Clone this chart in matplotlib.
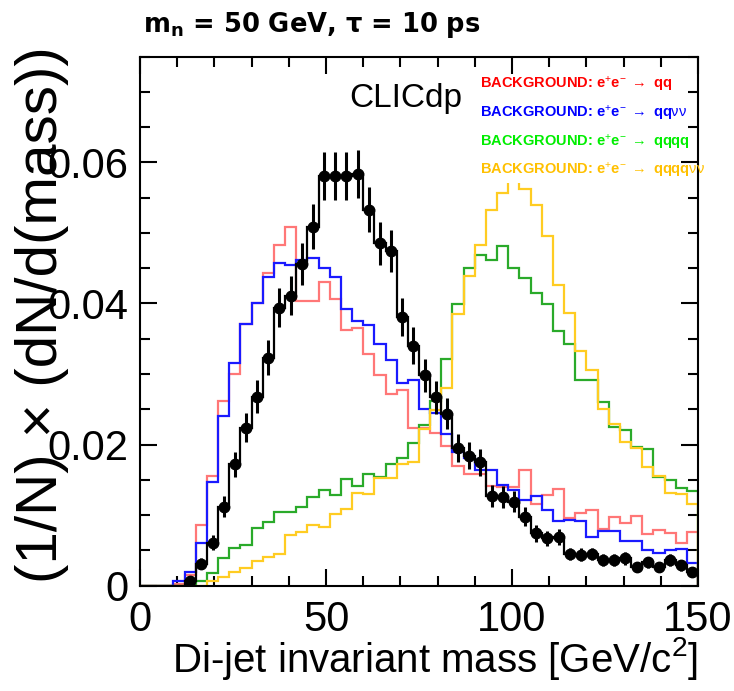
import numpy as np
import matplotlib.pyplot as plt
from matplotlib.patches import Rectangle
from matplotlib.ticker import MultipleLocator, FuncFormatter

plt.rcParams['font.family'] = ['Liberation Sans', 'DejaVu Sans']
plt.rcParams['mathtext.fontset'] = 'custom'
plt.rcParams['mathtext.rm'] = 'Liberation Sans'
plt.rcParams['mathtext.it'] = 'Liberation Sans:italic'
plt.rcParams['mathtext.bf'] = 'Liberation Sans:bold'

# 3 GeV bins from 0 to 150 GeV
bin_edges = np.arange(0, 153, 3)

# signal sample, normalised
signal = np.array([
    0, 0, 0, 0, 0.0006, 0.0031, 0.0061, 0.0112, 0.0172, 0.0224,
    0.0268, 0.0323, 0.0394, 0.0411, 0.0456, 0.0509, 0.0581, 0.0581, 0.0581, 0.0583,
    0.0533, 0.0485, 0.0474, 0.0381, 0.0340, 0.0298, 0.0267, 0.0244, 0.0195, 0.0184,
    0.0175, 0.0127, 0.0126, 0.0119, 0.0098, 0.0074, 0.0067, 0.0069, 0.0045, 0.0044,
    0.0045, 0.0037, 0.0037, 0.0039, 0.0026, 0.0033, 0.0026, 0.0037, 0.0029, 0.0020])
signal_err = np.array([
    0, 0, 0, 0, 0.0004, 0.0008, 0.0011, 0.0015, 0.0018, 0.0021,
    0.0023, 0.0025, 0.0028, 0.0028, 0.0030, 0.0032, 0.0034, 0.0034, 0.0034, 0.0034,
    0.0032, 0.0031, 0.0030, 0.0027, 0.0026, 0.0024, 0.0023, 0.0022, 0.0020, 0.0019,
    0.0019, 0.0016, 0.0016, 0.0015, 0.0014, 0.0012, 0.0011, 0.0012, 0.0009, 0.0009,
    0.0009, 0.00085, 0.00085, 0.0009, 0.0007, 0.0008, 0.0007, 0.00085, 0.00075, 0.00065])

bkg_qq = np.array([
    0, 0, 0, 0.0003, 0.0015, 0.0086, 0.0156, 0.0262, 0.0300, 0.0371,
    0.0400, 0.0443, 0.0483, 0.0509, 0.0403, 0.0403, 0.0430, 0.0407, 0.0362, 0.0365,
    0.0329, 0.0299, 0.0272, 0.0278, 0.0223, 0.0223, 0.0217, 0.0198, 0.0170, 0.0159,
    0.0159, 0.0141, 0.0140, 0.0140, 0.0164, 0.0116, 0.0129, 0.0137, 0.0096, 0.0103,
    0.0107, 0.0081, 0.0097, 0.0089, 0.0099, 0.0073, 0.0079, 0.0075, 0.0061, 0.0076])

bkg_qqvv = np.array([
    0, 0, 0, 0.0006, 0.0020, 0.0060, 0.0147, 0.0240, 0.0316, 0.0371,
    0.0400, 0.0438, 0.0458, 0.0454, 0.0462, 0.0465, 0.0450, 0.0437, 0.0392, 0.0375,
    0.0370, 0.0343, 0.0320, 0.0287, 0.0291, 0.0250, 0.0245, 0.0215, 0.0190, 0.0181,
    0.0164, 0.0164, 0.0143, 0.0136, 0.0121, 0.0127, 0.0107, 0.0091, 0.0093, 0.0091,
    0.0069, 0.0077, 0.0078, 0.0064, 0.0064, 0.0051, 0.0047, 0.0051, 0.0052, 0.0032])

bkg_qqqq = np.array([
    0, 0, 0, 0, 0, 0.0006, 0.0018, 0.0039, 0.0053, 0.0058,
    0.0082, 0.0090, 0.0104, 0.0104, 0.0112, 0.0126, 0.0135, 0.0129, 0.0151, 0.0142,
    0.0158, 0.0154, 0.0172, 0.0181, 0.0202, 0.0228, 0.0262, 0.0322, 0.0399, 0.0450,
    0.0469, 0.0461, 0.0481, 0.0450, 0.0436, 0.0415, 0.0399, 0.0361, 0.0342, 0.0292,
    0.0292, 0.0261, 0.0225, 0.0220, 0.0197, 0.0194, 0.0154, 0.0150, 0.0139, 0.0134])

bkg_qqqqvv = np.array([
    0, 0, 0, 0, 0, 0, 0.0006, 0.0012, 0.0020, 0.0025,
    0.0035, 0.0040, 0.0045, 0.0072, 0.0076, 0.0086, 0.0083, 0.0102, 0.0108, 0.0132,
    0.0130, 0.0153, 0.0153, 0.0173, 0.0175, 0.0222, 0.0249, 0.0280, 0.0385, 0.0439,
    0.0483, 0.0533, 0.0556, 0.0590, 0.0562, 0.0540, 0.0496, 0.0426, 0.0387, 0.0333,
    0.0306, 0.0250, 0.0229, 0.0204, 0.0195, 0.0168, 0.0155, 0.0132, 0.0130, 0.0116])

backgrounds = [
    (bkg_qq, '#ff7777', '#ff0000', 'qq'),
    (bkg_qqvv, '#1a1aff', '#0000ff', r'qq$\mathrm{\nu\nu}$'),
    (bkg_qqqq, '#2aaa2a', '#00ee00', 'qqqq'),
    (bkg_qqqqvv, '#ffcc22', '#ffc000', r'qqqq$\mathrm{\nu\nu}$'),
]

fig = plt.figure(figsize=(7.34, 6.91), dpi=100)
ax = fig.add_axes([0.1907, 0.1524, 0.7603, 0.7658])

for vals, line_col, _, _ in backgrounds:
    ax.stairs(vals, bin_edges, baseline=0, color=line_col, lw=1.6, zorder=2)

# signal: step outline plus points with stat errors
ax.stairs(signal, bin_edges, baseline=0, color='black', lw=1.6, zorder=3)
centers = 0.5 * (bin_edges[:-1] + bin_edges[1:])
filled = signal > 0
ax.errorbar(centers[filled], signal[filled], yerr=signal_err[filled], fmt='o',
            color='black', ms=7.5, elinewidth=2.2, capsize=0, zorder=4)

ax.set_xlim(0, 150)
ax.set_ylim(0, 0.075)

ax.xaxis.set_major_locator(MultipleLocator(50))
ax.xaxis.set_minor_locator(MultipleLocator(10))
ax.yaxis.set_major_locator(MultipleLocator(0.02))
ax.yaxis.set_minor_locator(MultipleLocator(0.005))
ax.xaxis.set_major_formatter(FuncFormatter(lambda v, p: f'{v:.0f}'))
ax.yaxis.set_major_formatter(FuncFormatter(lambda v, p: '0' if v == 0 else f'{v:.2f}'))
ax.tick_params(which='both', direction='in', top=True, right=True, width=1.5,
               labelsize=30)
ax.tick_params(which='major', length=12)
ax.tick_params(which='minor', length=7)
ax.tick_params(axis='x', pad=10)
ax.tick_params(axis='y', pad=8)
for sp in ax.spines.values():
    sp.set_linewidth(1.5)

# white legend pad, sits over the top of the histograms
ax.add_patch(Rectangle((91, 0.0571), 49, 0.0125, facecolor='white',
                       edgecolor='none', zorder=5))
legend_y = [0.0710, 0.0669, 0.0628, 0.0588]
for (vals, _, txt_col, final), ly in zip(backgrounds, legend_y):
    ax.text(91.5, ly, r'BACKGROUND: e$^{+}$e$^{-}$ $\rightarrow$ ' + final,
            color=txt_col, fontsize=10.5, fontweight='bold', va='center',
            ha='left', zorder=6)

ax.text(71.5, 0.0690, 'CLICdp', fontsize=24, ha='center', va='center', zorder=6)

fig.text(0.057, 0.544, '(1/N) \u00d7 (dN/d(mass))', rotation=90, fontsize=42,
         ha='center', va='center')
fig.text(0.951, 0.0275, 'Di-jet invariant mass [GeV/c$^{2}$]', fontsize=29,
         ha='right', va='baseline')
fig.text(0.195, 0.954, r'$\mathbf{m_{n}}$ = 50 GeV, $\mathbf{\tau}$ = 10 ps', fontsize=18.5,
         fontweight='bold', family=['DejaVu Sans'], math_fontfamily='dejavusans',
         ha='left', va='baseline')

fig.savefig('out.png', dpi=100)
